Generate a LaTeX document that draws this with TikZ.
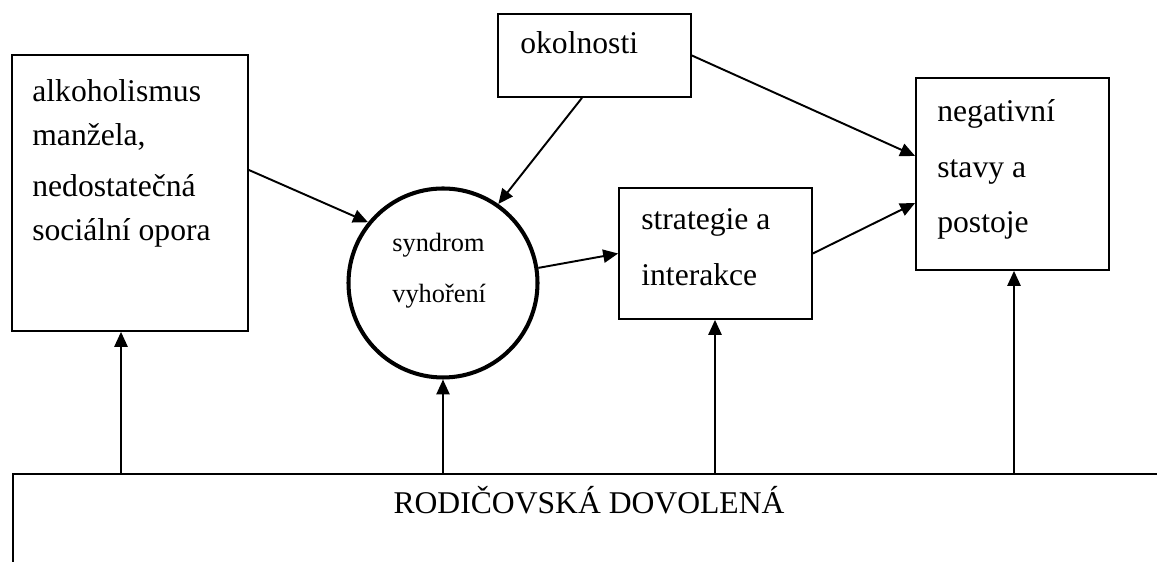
\documentclass[tikz,border=0pt]{standalone}
\usepackage{fontspec}
\setmainfont{Liberation Serif}
\usepackage{tikz}
\usetikzlibrary{arrows.meta,positioning}

\begin{document}
\begin{tikzpicture}[
        >={Triangle[length=8.5pt, width=7.5pt]},
        % Styly
        box/.style={rectangle, draw, line width=1pt, inner sep=0pt},
        ring/.style={circle, draw, line width=2.3pt, inner sep=0pt, minimum size=3.78cm},
        txt/.style={inner sep=0pt, align=left, font=\fontsize{18}{23}\selectfont},
        arr/.style={->, line width=1.1pt}
    ]
        \useasboundingbox (0,0) rectangle (23.14,11.24);

        % Ramecky
        \node[box, minimum width=4.72cm, minimum height=5.52cm] (alk) at (2.6, 7.38) {};
        \node[box, minimum width=3.86cm, minimum height=1.66cm] (okol) at (11.89, 10.13) {};
        \node[ring] (circ) at (8.86, 5.58) {};
        \node[box, minimum width=3.86cm, minimum height=2.62cm] (strat) at (14.31, 6.17) {};
        \node[box, minimum width=3.86cm, minimum height=3.84cm] (neg) at (20.25, 7.76) {};
        \node[draw, line width=1.2pt, anchor=north west, minimum width=24cm, minimum height=3cm] (leave) at (0.24, 1.78) {};

        % Texty
        \node[txt, anchor=west] (alktxt) at (0.64, 7.98) {alkoholismus\\[2pt] manžela,\\[6pt] nedostatečná\\[2pt] sociální opora};
        \node[txt, anchor=base west] (okoltxt) at (10.40, 10.16) {okolnosti};
        \node[txt, anchor=west, font=\fontsize{15}{29}\selectfont] (circtxt) at (7.84, 5.82) {syndrom\\ vyhoření};
        \node[txt, anchor=west, font=\fontsize{18}{32}\selectfont] (strattxt) at (12.82, 6.3) {strategie a\\ interakce};
        \node[txt, anchor=west, font=\fontsize{18}{31.5}\selectfont] (negtxt) at (18.74, 7.85) {negativní\\ stavy a\\ postoje};
        \node[txt, anchor=base] (leavetxt) at (11.78, 0.96) {RODIČOVSKÁ DOVOLENÁ};

        % Sipky
        \draw[arr] ([yshift=0.46cm]alk.east) -- (circ.141);
        \draw[arr] ([xshift=-0.25cm]okol.south) -- (circ.55);
        \draw[arr] (okol.east) -- ([yshift=0.36cm]neg.west);
        \draw[arr] (circ.9) -- (strat.west);
        \draw[arr] (strat.east) -- ([yshift=-0.58cm]neg.west);

        % Sipky od rodicovske dovolene
        \draw[arr] ([xshift=-0.18cm]alk.south |- leave.north) -- ([xshift=-0.18cm]alk.south);
        \draw[arr] (circ.south |- leave.north) -- (circ.south);
        \draw[arr] ([xshift=-0.01cm]strat.south |- leave.north) -- ([xshift=-0.01cm]strat.south);
        \draw[arr] ([xshift=0.03cm]neg.south |- leave.north) -- ([xshift=0.03cm]neg.south);

    \end{tikzpicture}
\end{document}
